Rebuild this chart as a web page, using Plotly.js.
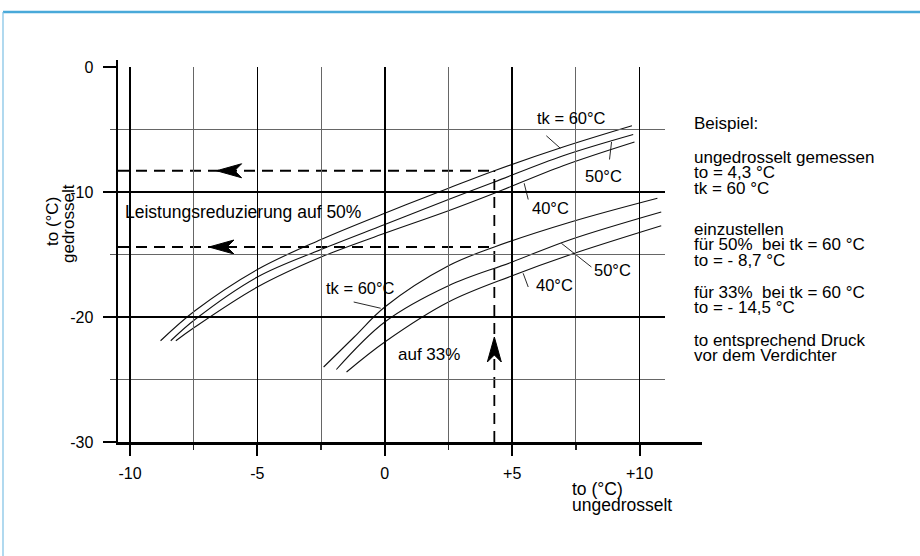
<!DOCTYPE html>
<html>
<head>
<meta charset="utf-8">
<script src="https://cdn.plot.ly/plotly-3.0.1.min.js"></script>
<style>
  html, body { margin: 0; padding: 0; background: #ffffff; }
  #chart { width: 920px; height: 556px; }
</style>
</head>
<body>
<div id="chart"></div>
<script>
// ---------------- data ----------------
// Upper family: "Leistungsreduzierung auf 50%"
var x50_tk60 = [-8.8, -7.45, -5, -2.5, 0, 2.5, 4.3, 7, 9.7];
var y50_tk60 = [-21.9, -19.5, -16.2, -13.8, -11.7, -9.7, -8.3, -6.4, -4.7];
var x50_tk50 = [-8.4, -7.45, -5, -2.5, 0, 2.5, 4.3, 7, 9.75];
var y50_tk50 = [-21.9, -20.2, -16.8, -14.6, -12.6, -10.6, -9.2, -7.1, -5.4];
var x50_tk40 = [-8.2, -7.45, -5, -2.5, 0, 2.5, 4.3, 7, 9.8];
var y50_tk40 = [-21.9, -20.8, -17.6, -15.2, -13.3, -11.5, -10.1, -7.9, -6.0];

// Lower family: "auf 33%"
var x33_tk60 = [-2.4, -1.2, 0, 2.5, 4.3, 7.3, 10.7];
var y33_tk60 = [-24.0, -21.6, -19.2, -15.9, -14.4, -12.4, -10.5];
var x33_tk50 = [-1.9, 0, 2.5, 5, 7.3, 10.85];
var y33_tk50 = [-24.2, -20.4, -17.5, -15.6, -13.8, -11.6];
var x33_tk40 = [-1.5, 0, 2.5, 5, 7.3, 10.85];
var y33_tk40 = [-24.4, -22.0, -18.8, -16.7, -15.0, -12.7];

// Worked example (dashed reading lines)
var exampleTo = 4.3;       // to ungedrosselt
var example50 = -8.3;      // read-off for 50 %
var example33 = -14.4;     // read-off for 33 %
var arrowLeftX = [-6.6, -6.9];   // tips of the two left-pointing arrows
var arrowUpY = -21.6;            // tip of the upward arrow

// Axis ticks
var xTickVals = [-10, -5, 0, 5, 10];
var xTickText = ['-10', '-5', '0', '+5', '+10'];
var yTickVals = [0, -10, -20, -30];
var yTickText = ['0', '-10', '-20', '-30'];

// Curve labels [text, x, y, size]
var curveLabels = [
  ['tk = 60°C', 7.32, -4.1, 16.5],
  ['50°C', 8.6, -8.7, 16.5],
  ['40°C', 6.5, -11.3, 16.5],
  ['50°C', 8.95, -16.2, 16.5],
  ['40°C', 6.65, -17.4, 16.5],
  ['tk = 60°C', -0.94, -17.7, 16.5],
  ['auf 33%', 1.73, -23.0, 17]
];
// Leader lines [x0, y0, x1, y1]
var leaders = [
  [6.34, -5.5, 6.89, -6.5],
  [8.9, -6.0, 8.82, -7.4],
  [5.47, -9.3, 5.63, -10.6],
  [6.93, -14.1, 8.11, -16.0],
  [5.43, -16.5, 5.63, -17.6],
  [-1.22, -18.8, -0.16, -19.3]
];

var NB = '\u00a0';
var infoLines = [
  ['Beispiel:', 123],
  ['ungedrosselt gemessen', 157], ['to = 4,3 °C', 172.5], ['tk = 60 °C', 188],
  ['einzustellen', 229], ['für 50%' + NB + ' bei tk = 60 °C', 244.5], ['to = - 8,7 °C', 260],
  ['für 33%' + NB + ' bei tk = 60 °C', 292], ['to = - 14,5 °C', 307.5],
  ['to entsprechend Druck', 340], ['vor dem Verdichter', 355.5]
];

// ---------------- layout geometry ----------------
var W = 920, H = 556;
var M = {l: 118, r: 218, t: 60, b: 114};
var xRange = [-10.47, 12.45];
var yRange = [-30, 0.56];
var gridXRange = [-10.47, 11.0];
var gridYRange = [-30, 0];
var plotW = W - M.l - M.r, plotH = H - M.t - M.b;
var kx = plotW / (xRange[1] - xRange[0]);
var ky = plotH / (yRange[1] - yRange[0]);
function pxX(px) { return (px - M.l) / plotW; }
function pxY(py) { return (H - M.b - py) / plotH; }

var FONT = 'Liberation Sans, Arial, Helvetica, sans-serif';
var FS = 16;

// ---------------- traces ----------------
var curveStyle = {color: '#111', width: 1.1, shape: 'spline', smoothing: 1};
function curve(x, y) {
  return {x: x, y: y, mode: 'lines', line: curveStyle, hoverinfo: 'skip', showlegend: false};
}
var traces = [
  curve(x50_tk60, y50_tk60), curve(x50_tk50, y50_tk50), curve(x50_tk40, y50_tk40),
  curve(x33_tk60, y33_tk60), curve(x33_tk50, y33_tk50), curve(x33_tk40, y33_tk40)
];

var dashStyle = {color: '#000', width: 1.8, dash: '11px,7px'};
traces.push({x: [xRange[0], exampleTo], y: [example50, example50], mode: 'lines', line: dashStyle, showlegend: false, hoverinfo: 'skip'});
traces.push({x: [xRange[0], exampleTo], y: [example33, example33], mode: 'lines', line: dashStyle, showlegend: false, hoverinfo: 'skip'});
traces.push({x: [exampleTo, exampleTo], y: [yRange[0], example50], mode: 'lines', line: dashStyle, showlegend: false, hoverinfo: 'skip'});

leaders.forEach(function (l) {
  traces.push({x: [l[0], l[2]], y: [l[1], l[3]], mode: 'lines', line: {color: '#111', width: 0.9}, showlegend: false, hoverinfo: 'skip'});
});

// arrowheads (filled, barbed)
var AL = 25, AN = 18, AW = 7;
function leftArrow(xt, yt) {
  return {x: [xt, xt + AL / kx, xt + AN / kx, xt + AL / kx, xt],
          y: [yt, yt + AW / ky, yt, yt - AW / ky, yt],
          mode: 'lines', fill: 'toself', fillcolor: '#000', line: {color: '#000', width: 1},
          showlegend: false, hoverinfo: 'skip'};
}
function upArrow(xt, yt) {
  return {x: [xt, xt + AW / kx, xt, xt - AW / kx, xt],
          y: [yt, yt - AL / ky, yt - AN / ky, yt - AL / ky, yt],
          mode: 'lines', fill: 'toself', fillcolor: '#000', line: {color: '#000', width: 1},
          showlegend: false, hoverinfo: 'skip'};
}
traces.push(leftArrow(arrowLeftX[0], example50));
traces.push(leftArrow(arrowLeftX[1], example33));
traces.push(upArrow(exampleTo, arrowUpY));

// invisible trace on grid subplot so it is drawn
traces.push({x: [0], y: [0], xaxis: 'x2', yaxis: 'y2', mode: 'markers', marker: {opacity: 0}, showlegend: false, hoverinfo: 'skip'});

// ---------------- annotations ----------------
var annotations = [];
curveLabels.forEach(function (c) {
  annotations.push({x: c[1], y: c[2], xref: 'x', yref: 'y', text: c[0], showarrow: false,
    font: {family: FONT, size: c[3], color: '#000'}, xanchor: 'center', yanchor: 'middle'});
});
annotations.push({x: -10.28, y: -11.6, xref: 'x', yref: 'y', text: 'Leistungsreduzierung auf 50%',
  showarrow: false, xanchor: 'left', yanchor: 'middle', font: {family: FONT, size: 17.5, color: '#000'}});

infoLines.forEach(function (l) {
  annotations.push({x: pxX(693), y: pxY(l[1]), xref: 'paper', yref: 'paper', text: l[0], showarrow: false,
    xanchor: 'left', yanchor: 'middle', borderpad: 0, font: {family: FONT, size: 17, color: '#000'}});
});

// axis titles
annotations.push({x: pxX(53), y: pxY(222), xref: 'paper', yref: 'paper', text: 'to (°C)', textangle: -90,
  showarrow: false, xanchor: 'center', yanchor: 'middle', font: {family: FONT, size: 17, color: '#000'}});
annotations.push({x: pxX(68), y: pxY(224), xref: 'paper', yref: 'paper', text: 'gedrosselt', textangle: -90,
  showarrow: false, xanchor: 'center', yanchor: 'middle', font: {family: FONT, size: 17, color: '#000'}});
annotations.push({x: pxX(570), y: pxY(489), xref: 'paper', yref: 'paper', text: 'to (°C)',
  showarrow: false, xanchor: 'left', yanchor: 'middle', font: {family: FONT, size: 17.5, color: '#000'}});
annotations.push({x: pxX(570), y: pxY(505), xref: 'paper', yref: 'paper', text: 'ungedrosselt',
  showarrow: false, xanchor: 'left', yanchor: 'middle', font: {family: FONT, size: 17.5, color: '#000'}});

// ---------------- frame shapes ----------------
var shapes = [
  {type: 'line', xref: 'paper', yref: 'paper', x0: pxX(3), x1: pxX(930), y0: pxY(12), y1: pxY(12),
   line: {color: '#49a9d9', width: 2.5}},
  {type: 'line', xref: 'paper', yref: 'paper', x0: pxX(3), x1: pxX(3), y0: pxY(12), y1: pxY(570),
   line: {color: '#7cc0e4', width: 1.2}}
];

var layout = {
  width: W, height: H,
  margin: M,
  paper_bgcolor: '#ffffff',
  plot_bgcolor: 'rgba(0,0,0,0)',
  showlegend: false,
  font: {family: FONT, size: FS, color: '#000'},
  xaxis: {
    range: xRange, showgrid: false, zeroline: false,
    showline: true, linecolor: '#000', linewidth: 2.5,
    ticks: 'outside', ticklen: 11, tickwidth: 2, tickcolor: '#000',
    tickmode: 'array', tickvals: xTickVals, ticktext: xTickText,
    ticklabelstandoff: 4,
    tickfont: {family: FONT, size: FS, color: '#000'},
    minor: {tickmode: 'linear', tick0: 0, dtick: 2.5, ticks: 'outside', ticklen: 5, tickwidth: 1.5, tickcolor: '#222', showgrid: false},
    fixedrange: true
  },
  yaxis: {
    range: yRange, showgrid: false, zeroline: false,
    showline: true, linecolor: '#000', linewidth: 2.5,
    ticks: 'outside', ticklen: 13, tickwidth: 2, tickcolor: '#000',
    tickmode: 'array', tickvals: yTickVals, ticktext: yTickText,
    ticklabelstandoff: 6,
    tickfont: {family: FONT, size: FS, color: '#000'},
    minor: {tickmode: 'linear', tick0: 0, dtick: 5, ticks: 'outside', ticklen: 6, tickwidth: 1.2, tickcolor: '#555', showgrid: false},
    fixedrange: true
  },
  xaxis2: {
    domain: [0, (gridXRange[1] - gridXRange[0]) * kx / plotW], anchor: 'y2',
    range: gridXRange, zeroline: false, showline: false, showticklabels: false, ticks: '',
    tickmode: 'array', tickvals: xTickVals,
    showgrid: true, gridcolor: '#000', gridwidth: 1.5,
    minor: {tickmode: 'linear', tick0: 0, dtick: 2.5, showgrid: true, gridcolor: '#666', gridwidth: 1, ticks: ''},
    fixedrange: true
  },
  yaxis2: {
    domain: [0, (gridYRange[1] - gridYRange[0]) * ky / plotH], anchor: 'x2',
    range: gridYRange, zeroline: false, showline: false, showticklabels: false, ticks: '',
    tickmode: 'array', tickvals: [0, -10, -20],
    showgrid: true, gridcolor: '#000', gridwidth: 1.5,
    minor: {tickmode: 'linear', tick0: 0, dtick: 5, showgrid: true, gridcolor: '#666', gridwidth: 1, ticks: ''},
    fixedrange: true
  },
  annotations: annotations,
  shapes: shapes
};

Plotly.newPlot('chart', traces, layout, {displayModeBar: false, staticPlot: true});
</script>
</body>
</html>
